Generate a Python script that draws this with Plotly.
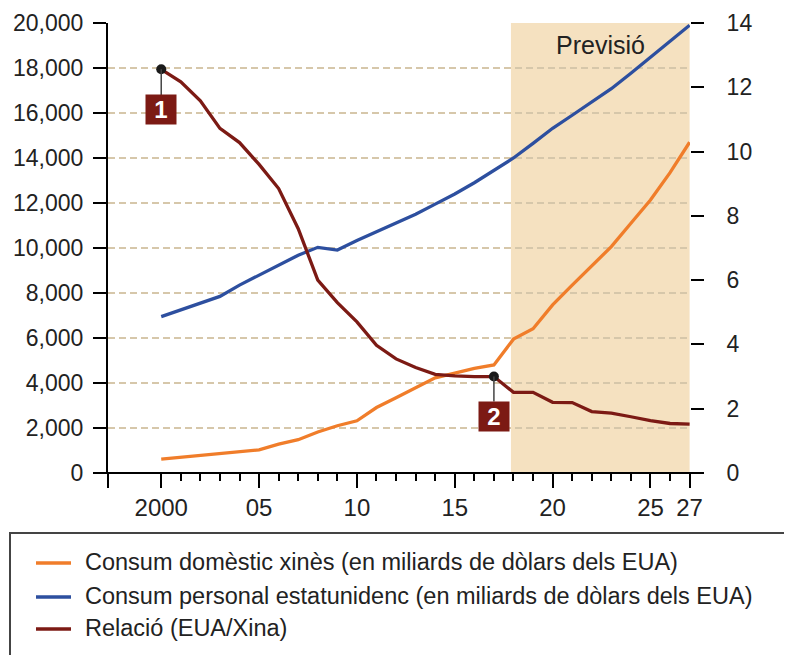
import plotly.graph_objects as go

years = list(range(2000, 2028))
china_consumption = [620, 700, 780, 850, 920, 1030, 1280, 1480, 1820, 2100, 2320, 2910, 3340, 3800,
                     4230, 4440, 4650, 4800, 5950, 6410, 7470, 8350, 9200, 10060, 11100, 12130, 13350, 14700]
us_consumption = [6950, 7250, 7550, 7850, 8350, 8800, 9250, 9680, 10030, 9910, 10330, 10730, 11100, 11500,
                  11950, 12400, 12900, 13450, 14000, 14650, 15320, 15900, 16480, 17080, 17770, 18470, 19180, 19900]
ratio = [12.56, 12.17, 11.58, 10.72, 10.28, 9.6, 8.85, 7.6, 6.0, 5.3, 4.7, 3.97, 3.55, 3.28,
         3.07, 3.02, 3.0, 3.0, 2.51, 2.51, 2.2, 2.19, 1.91, 1.86, 1.75, 1.63, 1.54, 1.52]

names = ["Consum domèstic xinès (en miliards de dòlars dels EUA)",
         "Consum personal estatunidenc (en miliards de dòlars dels EUA)",
         "Relació (EUA/Xina)"]

x_tickvals = [2000, 2005, 2010, 2015, 2020, 2025, 2027]
x_ticktext = ["2000", "05", "10", "15", "20", "25", "27"]
left_tickvals = list(range(0, 20001, 2000))
left_ticktext = [f"{v:,}" for v in left_tickvals]
right_tickvals = list(range(0, 15, 2))

forecast_start = 2017.87
callout_years = [2000, 2017]
callout_values = [ratio[0], ratio[17]]
callout_labels = ["1", "2"]

ORANGE = "#F07D2A"
BLUE = "#2D4F9F"
RED = "#7C1A14"
SHADE = "#F5E1C0"
GRID = "#D6C7AA"
FONT = "Liberation Sans, Arial, sans-serif"
TXT = "#222222"
colors = [ORANGE, BLUE, RED]

# page body has an 8px margin; figure is sized so that the page matches the reference
W, H = 784, 647
L, R, T, B = 100, 102, 15, 182
PW, PH = W - L - R, H - T - B


def px(page_x):
    return (page_x - 8 - L) / PW


def py(page_y):
    return (H - B - (page_y - 8)) / PH


fig = go.Figure()
fig.add_trace(go.Scatter(x=years, y=china_consumption, name=names[0], mode="lines",
                         line=dict(color=ORANGE, width=3.3), yaxis="y"))
fig.add_trace(go.Scatter(x=years, y=us_consumption, name=names[1], mode="lines",
                         line=dict(color=BLUE, width=3.3), yaxis="y"))
fig.add_trace(go.Scatter(x=years, y=ratio, name=names[2], mode="lines",
                         line=dict(color=RED, width=3.3), yaxis="y2"))
fig.add_trace(go.Scatter(x=callout_years, y=callout_values, mode="markers",
                         marker=dict(color="#1A1A1A", size=10), yaxis="y2"))

# forecast shading
fig.add_shape(type="rect", xref="x", yref="paper", x0=forecast_start, x1=2027, y0=0, y1=1,
              fillcolor=SHADE, line=dict(width=0), layer="between")

# callout connectors and boxes
box_y = [py(109.7), py(416)]
for xv, yv, lab, by in zip(callout_years, callout_values, callout_labels, box_y):
    y1_val = (by + 14.5 / PH) * 14
    fig.add_shape(type="line", xref="x", yref="y2", x0=xv, x1=xv, y0=yv, y1=y1_val,
                  line=dict(color="#444444", width=1.5), layer="above")
    fig.add_annotation(x=xv, y=by, xref="x", yref="paper", text=f"<b>{lab}</b>",
                       xanchor="center", yanchor="middle",
                       showarrow=False, width=30, height=29, bgcolor=RED, borderpad=0,
                       font=dict(family=FONT, size=24, color="white"))

fig.add_annotation(x=px(600), y=py(45), xref="paper", yref="paper", text="Previsió", showarrow=False,
                   xanchor="center", yanchor="middle",
                   font=dict(family=FONT, size=25, color=TXT))

# x-axis line extending beyond plot, and left axis stub below
fig.add_shape(type="line", xref="paper", yref="paper", x0=px(100), x1=px(700),
              y0=0, y1=0, line=dict(color="black", width=2), layer="above")
fig.add_shape(type="line", xref="paper", yref="paper", x0=0, x1=0, y0=-15 / PH, y1=0,
              line=dict(color="black", width=2), layer="above")

# legend frame and entries
fig.add_shape(type="rect", xref="paper", yref="paper", x0=px(10), x1=px(810),
              y0=py(680), y1=py(533), line=dict(color="#444444", width=2),
              fillcolor="rgba(0,0,0,0)")
legend_rows = [562, 596, 628]
for name, col, row in zip(names, colors, legend_rows):
    fig.add_shape(type="line", xref="paper", yref="paper", x0=px(36), x1=px(71),
                  y0=py(row + 1), y1=py(row + 1), line=dict(color=col, width=3.5))
    fig.add_annotation(x=px(83), y=py(row), xref="paper", yref="paper", text=name, showarrow=False,
                       xanchor="left", yanchor="middle",
                       font=dict(family=FONT, size=23.5, color=TXT))

fig.update_layout(
    width=W, height=H,
    margin=dict(l=L, r=R, t=T, b=B),
    paper_bgcolor="white", plot_bgcolor="white",
    showlegend=False,
    font=dict(family=FONT, size=23, color=TXT),
    xaxis=dict(range=[1997.28, 2027.02], tickmode="array", tickvals=x_tickvals, ticktext=x_ticktext,
               ticks="outside", ticklen=14, tickwidth=2, tickcolor="black", showline=False,
               showgrid=False, zeroline=False, ticklabelstandoff=-1, automargin=False,
               minor=dict(tickmode="array", tickvals=years, ticks="outside", ticklen=7,
                          tickwidth=2, tickcolor="black", showgrid=False),
               tickfont=dict(size=24, color=TXT)),
    yaxis=dict(range=[0, 20000], tickmode="array", tickvals=left_tickvals, ticktext=left_ticktext,
               ticks="outside", ticklen=13, tickwidth=2, tickcolor="black", automargin=False,
               showline=True, linecolor="black", linewidth=2, ticklabelstandoff=5,
               showgrid=True, gridcolor=GRID, gridwidth=2, griddash="7px,4px", zeroline=False,
               tickfont=dict(size=23, color=TXT)),
    yaxis2=dict(range=[0, 14], overlaying="y", side="right", tickmode="array", tickvals=right_tickvals,
                ticks="outside", ticklen=13, tickwidth=2, tickcolor="black", ticklabelstandoff=18,
                showline=False, showgrid=False, zeroline=False, automargin=False,
                tickfont=dict(size=23, color=TXT)),
)

fig.write_html("out.html")
